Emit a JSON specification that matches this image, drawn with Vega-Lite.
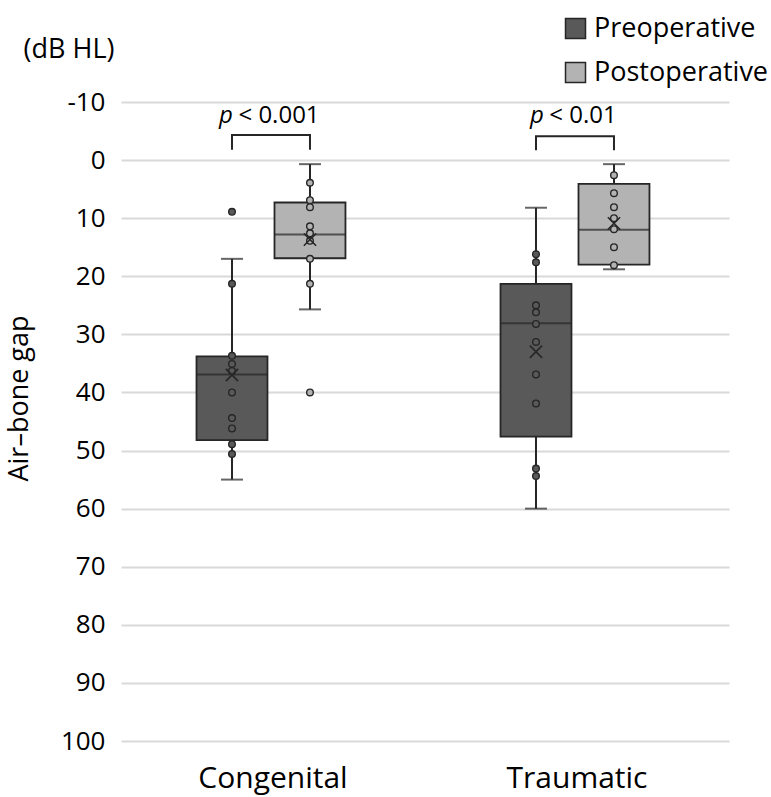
{
  "$schema": "https://vega.github.io/schema/vega-lite/v6.json",
  "width": 608,
  "height": 639,
  "autosize": {"type": "none"},
  "padding": {"left": 121, "top": 102, "right": 42, "bottom": 56},
  "background": "white",
  "config": {
    "font": "Open Sans",
    "view": {"stroke": null},
    "axisY": {
      "grid": true, "gridColor": "#d9d9d9", "gridWidth": 2,
      "domain": false, "ticks": false,
      "labelFontSize": 26, "labelPadding": 16, "labelColor": "#000",
      "titleFontSize": 27, "titleFontWeight": "normal", "titleColor": "#000",
      "titleX": -88, "titleY": 296
    }
  },
  "datasets": {
    "stats": [
      {"group": "Congenital", "phase": "Preoperative", "lo": 17.0, "q1": 33.8, "med": 36.9, "q3": 48.2, "hi": 55.0, "mean": 37.0},
      {"group": "Congenital", "phase": "Postoperative", "lo": 0.7, "q1": 7.3, "med": 12.8, "q3": 16.9, "hi": 25.7, "mean": 13.7},
      {"group": "Traumatic", "phase": "Preoperative", "lo": 8.2, "q1": 21.3, "med": 28.1, "q3": 47.6, "hi": 60.0, "mean": 33.0},
      {"group": "Traumatic", "phase": "Postoperative", "lo": 0.7, "q1": 4.1, "med": 12.0, "q3": 18.0, "hi": 18.8, "mean": 10.9}
    ],
    "pts": [
      {"group": "Congenital", "phase": "Preoperative", "v": 8.9},
      {"group": "Congenital", "phase": "Preoperative", "v": 21.3},
      {"group": "Congenital", "phase": "Preoperative", "v": 33.7},
      {"group": "Congenital", "phase": "Preoperative", "v": 35.1},
      {"group": "Congenital", "phase": "Preoperative", "v": 36.3},
      {"group": "Congenital", "phase": "Preoperative", "v": 40.0},
      {"group": "Congenital", "phase": "Preoperative", "v": 44.4},
      {"group": "Congenital", "phase": "Preoperative", "v": 46.2},
      {"group": "Congenital", "phase": "Preoperative", "v": 48.9},
      {"group": "Congenital", "phase": "Preoperative", "v": 50.6},
      {"group": "Congenital", "phase": "Postoperative", "v": 3.9},
      {"group": "Congenital", "phase": "Postoperative", "v": 6.9},
      {"group": "Congenital", "phase": "Postoperative", "v": 8.1},
      {"group": "Congenital", "phase": "Postoperative", "v": 11.4},
      {"group": "Congenital", "phase": "Postoperative", "v": 12.6},
      {"group": "Congenital", "phase": "Postoperative", "v": 13.9},
      {"group": "Congenital", "phase": "Postoperative", "v": 17.0},
      {"group": "Congenital", "phase": "Postoperative", "v": 21.3},
      {"group": "Congenital", "phase": "Postoperative", "v": 40.0},
      {"group": "Traumatic", "phase": "Preoperative", "v": 16.2},
      {"group": "Traumatic", "phase": "Preoperative", "v": 17.6},
      {"group": "Traumatic", "phase": "Preoperative", "v": 25.0},
      {"group": "Traumatic", "phase": "Preoperative", "v": 26.2},
      {"group": "Traumatic", "phase": "Preoperative", "v": 28.2},
      {"group": "Traumatic", "phase": "Preoperative", "v": 31.3},
      {"group": "Traumatic", "phase": "Preoperative", "v": 36.9},
      {"group": "Traumatic", "phase": "Preoperative", "v": 41.9},
      {"group": "Traumatic", "phase": "Preoperative", "v": 53.1},
      {"group": "Traumatic", "phase": "Preoperative", "v": 54.4},
      {"group": "Traumatic", "phase": "Postoperative", "v": 2.6},
      {"group": "Traumatic", "phase": "Postoperative", "v": 5.7},
      {"group": "Traumatic", "phase": "Postoperative", "v": 8.1},
      {"group": "Traumatic", "phase": "Postoperative", "v": 10.0},
      {"group": "Traumatic", "phase": "Postoperative", "v": 11.9},
      {"group": "Traumatic", "phase": "Postoperative", "v": 15.0},
      {"group": "Traumatic", "phase": "Postoperative", "v": 18.1}
    ],
    "brackets": [
      {"group": "Congenital", "phase": "Preoperative", "y": -1.8, "o": 1},
      {"group": "Congenital", "phase": "Preoperative", "y": -4.3, "o": 2},
      {"group": "Congenital", "phase": "Postoperative", "y": -4.3, "o": 3},
      {"group": "Congenital", "phase": "Postoperative", "y": -1.8, "o": 4},
      {"group": "Traumatic", "phase": "Preoperative", "y": -1.7, "o": 1},
      {"group": "Traumatic", "phase": "Preoperative", "y": -4.1, "o": 2},
      {"group": "Traumatic", "phase": "Postoperative", "y": -4.1, "o": 3},
      {"group": "Traumatic", "phase": "Postoperative", "y": -1.7, "o": 4}
    ]
  },
  "encoding": {
    "x": {
      "field": "group",
      "type": "nominal",
      "scale": {"domain": ["Congenital", "Traumatic"], "paddingInner": 0, "paddingOuter": 0},
      "axis": {"title": null, "labelAngle": 0, "domain": false, "ticks": false, "grid": false, "labelFontSize": 30, "labelPadding": 22, "labelColor": "#000"}
    }
  },
  "layer": [
    {
      "data": {"name": "stats"},
      "mark": {"type": "rule", "stroke": "#262626", "strokeWidth": 2},
      "encoding": {
        "xOffset": {"field": "phase", "type": "nominal", "scale": {"domain": ["Preoperative", "Postoperative"], "paddingInner": 0.09, "paddingOuter": 0.994, "align": 0.487}},
        "y": {
          "field": "lo",
          "type": "quantitative",
          "title": "Air–bone gap",
          "scale": {"domain": [-10, 100], "reverse": true, "nice": false, "zero": false},
          "axis": {"values": [-10, 0, 10, 20, 30, 40, 50, 60, 70, 80, 90, 100], "labelExpr": "'' + datum.value"}
        },
        "y2": {"field": "hi"}
      }
    },
    {
      "data": {"name": "stats"},
      "mark": {"type": "bar", "stroke": "#262626", "strokeWidth": 1.8, "opacity": 1},
      "encoding": {
        "xOffset": {"field": "phase", "type": "nominal"},
        "y": {"field": "q1", "type": "quantitative", "title": "Air–bone gap"},
        "y2": {"field": "q3"},
        "color": {
          "field": "phase",
          "type": "nominal",
          "scale": {"domain": ["Preoperative", "Postoperative"], "range": ["#595959", "#b3b3b3"]},
          "legend": {
            "title": null, "orient": "none", "legendX": 441, "legendY": -87,
            "symbolType": "square", "symbolSize": 400, "symbolStrokeColor": "#262626", "symbolStrokeWidth": 1.5, "symbolOpacity": 1,
            "labelFontSize": 27, "labelOffset": 5, "rowPadding": 16, "labelColor": "#000", "labelLimit": 400
          }
        }
      }
    },
    {
      "data": {"name": "stats"},
      "mark": {"type": "tick", "color": "#262626", "thickness": 2, "size": 71},
      "encoding": {
        "xOffset": {"field": "phase", "type": "nominal"},
        "y": {"field": "med", "type": "quantitative", "title": "Air–bone gap"}
      }
    },
    {
      "data": {"name": "stats"},
      "transform": [{"fold": ["lo", "hi"], "as": ["k", "cap"]}],
      "mark": {"type": "tick", "color": "#262626", "thickness": 2, "size": 22},
      "encoding": {
        "xOffset": {"field": "phase", "type": "nominal"},
        "y": {"field": "cap", "type": "quantitative", "title": "Air–bone gap"}
      }
    },
    {
      "data": {"name": "pts"},
      "mark": {"type": "point", "shape": "circle", "filled": true, "size": 44, "stroke": "#262626", "strokeWidth": 1.4, "opacity": 1},
      "encoding": {
        "xOffset": {"field": "phase", "type": "nominal"},
        "y": {"field": "v", "type": "quantitative", "title": "Air–bone gap"},
        "color": {"field": "phase", "type": "nominal", "legend": null}
      }
    },
    {
      "data": {"name": "stats"},
      "mark": {"type": "point", "shape": "M-1,-1L1,1M-1,1L1,-1", "filled": false, "size": 150, "stroke": "#262626", "strokeWidth": 1.6, "opacity": 1},
      "encoding": {
        "xOffset": {"field": "phase", "type": "nominal"},
        "y": {"field": "mean", "type": "quantitative", "title": "Air–bone gap"}
      }
    },
    {
      "data": {"name": "brackets"},
      "mark": {"type": "line", "stroke": "#262626", "strokeWidth": 2},
      "encoding": {
        "xOffset": {"field": "phase", "type": "nominal"},
        "y": {"field": "y", "type": "quantitative", "title": "Air–bone gap"},
        "detail": {"field": "group"},
        "order": {"field": "o", "type": "quantitative"}
      }
    },
    {
      "data": {"values": [{"group": "Congenital", "t": "< 0.001", "y": -6.4}, {"group": "Traumatic", "t": "< 0.01", "y": -6.4}]},
      "mark": {"type": "text", "align": "center", "baseline": "alphabetic", "fontSize": 24, "dx": 6, "color": "#000"},
      "encoding": {
        "y": {"field": "y", "type": "quantitative", "title": "Air–bone gap"},
        "text": {"field": "t"}
      }
    },
    {
      "data": {"values": [{"group": "Congenital", "t": "p", "y": -6.4}]},
      "mark": {"type": "text", "align": "left", "baseline": "alphabetic", "fontSize": 24, "fontStyle": "italic", "dx": -54, "color": "#000"},
      "encoding": {
        "y": {"field": "y", "type": "quantitative", "title": "Air–bone gap"},
        "text": {"field": "t"}
      }
    },
    {
      "data": {"values": [{"group": "Traumatic", "t": "p", "y": -6.4}]},
      "mark": {"type": "text", "align": "left", "baseline": "alphabetic", "fontSize": 24, "fontStyle": "italic", "dx": -47, "color": "#000"},
      "encoding": {
        "y": {"field": "y", "type": "quantitative", "title": "Air–bone gap"},
        "text": {"field": "t"}
      }
    },
    {
      "data": {"values": [{"group": "Congenital", "t": "(dB HL)", "y": -18.9}]},
      "mark": {"type": "text", "align": "center", "baseline": "middle", "fontSize": 27, "dx": -204, "color": "#000"},
      "encoding": {
        "y": {"field": "y", "type": "quantitative", "title": "Air–bone gap"},
        "text": {"field": "t"}
      }
    }
  ]
}
